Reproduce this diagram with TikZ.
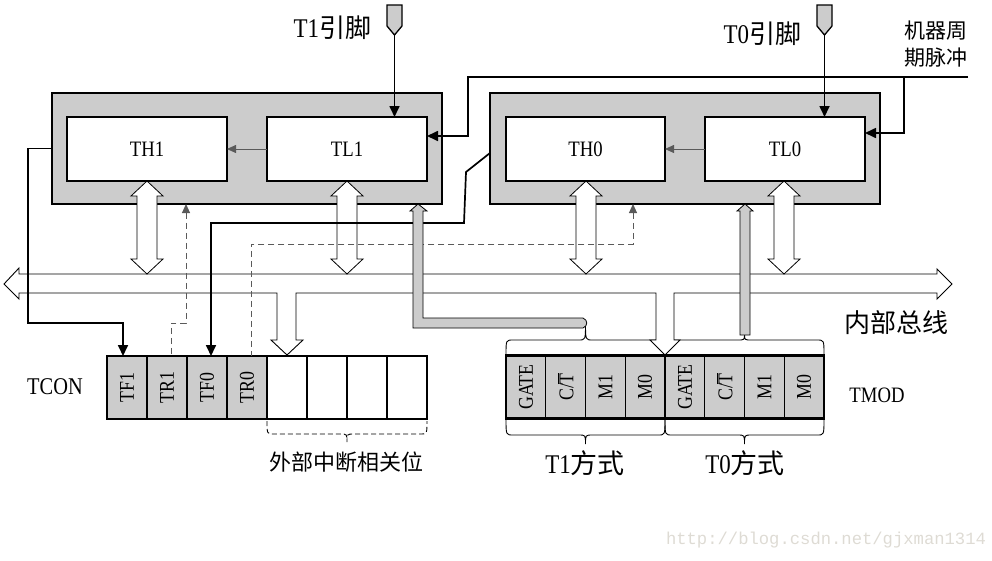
\documentclass[tikz,border=0pt]{standalone}
\usepackage{fontspec}
\usepackage{graphicx}
\setmainfont{Liberation Serif}[FakeStretch=0.85]
\newfontfamily\cjk{Noto Sans CJK SC}
\newfontfamily\wmfont{Liberation Mono}
\usetikzlibrary{arrows.meta}
\definecolor{rg}{RGB}{204,204,204}
\definecolor{wmc}{RGB}{222,219,212}
\definecolor{dg}{RGB}{90,90,90}

\newcommand\dblarr[1]{%
  \draw[warrow] (#1,181) -- ({#1+16},196) -- ({#1+10},196) -- ({#1+10},259) -- ({#1+16},259) -- (#1,274)
    -- ({#1-16},259) -- ({#1-10},259) -- ({#1-10},196) -- ({#1-16},196) -- cycle;}
% optional style, x1, x2, ybase, ystraight, ypeak
\newcommand\mybrace[6][]{%
  \draw[bracestyle,#1] (#2,#4) .. controls (#2,#5) .. ({#2+7},#5) -- ({(#2+#3)/2-7},#5)
    .. controls ({(#2+#3)/2},#5) .. ({(#2+#3)/2},#6)
    .. controls ({(#2+#3)/2},#5) .. ({(#2+#3)/2+7},#5) -- ({#3-7},#5)
    .. controls (#3,#5) .. (#3,#4);}

\begin{document}
\begin{tikzpicture}[x=1pt,y=-1pt,
  every node/.style={inner sep=0pt, outer sep=0pt},
  gbox/.style={draw, line width=1.6pt, fill=rg, minimum width=390pt, minimum height=111pt},
  reg/.style={draw, line width=1.6pt, fill=white, minimum width=160pt, minimum height=64pt,
    font=\fontsize{22}{24}\selectfont},
  cell/.style={draw, line width=1.2pt, fill=rg, minimum width=40pt, minimum height=63pt,
    font=\fontsize{21}{22}\selectfont},
  mcell/.style={cell, minimum width=39.75pt},
  ecell/.style={cell, fill=white},
  warrow/.style={draw, fill=white, line width=0.8pt},
  pipe/.style={draw, fill=rg, line width=0.8pt},
  thickln/.style={line width=1.7pt},
  tip/.style={-{Triangle[length=11pt,width=10pt]}},
  smalltip/.style={-{Triangle[length=9pt,width=8pt]}},
  dashln/.style={dashed, dash pattern=on 6pt off 4pt, line width=1pt, draw=dg},
  bracestyle/.style={line width=0.9pt},
  lbl/.style={font=\fontsize{24}{28}\selectfont},
  cjklbl/.style={font=\cjk\fontsize{26}{30}\selectfont},
]
\useasboundingbox (0,0) rectangle (992,560);

% gray boxes and registers
\node[gbox] (g1) at (247,148.5) {};
\node[gbox] (g0) at (685,148.5) {};
\node[reg] (TH1) at (147,149) {TH1};
\node[reg] (TL1) at (347,149) {TL1};
\node[reg, minimum width=159pt] (TH0) at (585.5,149) {TH0};
\node[reg] (TL0) at (785,149) {TL0};
\draw[line width=0.8pt, draw=dg, smalltip] (TL1.west) -- (TH1.east);
\draw[line width=0.8pt, draw=dg, smalltip] (TL0.west) -- (TH0.east);

% pins
\draw[fill=rg, line width=1.3pt] (387,5) -- (402,5) -- (402,26) -- (394.5,35) -- (387,26) -- cycle;
\draw[fill=rg, line width=1.3pt] (817,5) -- (832,5) -- (832,26) -- (824.5,35) -- (817,26) -- cycle;
\coordinate (p1) at (394.5,35);
\coordinate (p0) at (824.5,35);
\draw[thickln, tip] (p1) -- (p1 |- TL1.north);
\draw[thickln, tip] (p0) -- (p0 |- TL0.north);
\node[anchor=east] (t1pin) at (371,28) {\fontsize{27}{30}\selectfont T1{\cjk\fontsize{26}{30}\selectfont 引脚}};
\node[anchor=east] (t0pin) at (801,34) {\fontsize{27}{30}\selectfont T0{\cjk\fontsize{26}{30}\selectfont 引脚}};

% machine cycle pulse
\coordinate (mc) at (968,77);
\coordinate (k1) at (468,136);
\coordinate (k0) at (904,133);
\coordinate (br) at (904,77);
\draw[thickln, tip] (mc) -- (468,77) -- (k1) -- (k1 -| TL1.east);
\draw[thickln, tip] (br) -- (k0) -- (k0 -| TL0.east);
\node[font=\cjk\fontsize{21}{27}\selectfont, align=center] (mcp) at (936,44) {机器周\\期脉冲};

% TMOD top braces (under the bus arrow)
\mybrace{506}{665}{355}{340}{323}
\mybrace{665}{824}{355}{340}{334}

% internal bus
\draw[fill=white, line width=0.9pt] (4,284) -- (19,268) -- (19,274) -- (937,274) -- (937,269) -- (952,284)
  -- (937,299) -- (937,293) -- (674,293) -- (674,340) -- (680,340) -- (665,355) -- (650,340) -- (656,340)
  -- (656,293) -- (296,293) -- (296,340) -- (303,340) -- (287,355) -- (271,340) -- (277,340) -- (277,293)
  -- (19,293) -- (19,299) -- cycle;
\node[cjklbl] (bus) at (896,323) {内部总线};

% double arrows between registers and the bus
\dblarr{147}
\dblarr{347}
\dblarr{586}
\dblarr{784}

% TCON register
\node[cell] (c1) at (127,387.5) {\rotatebox{90}{TF1}};
\node[cell] (c2) at (167,387.5) {\rotatebox{90}{TR1}};
\node[cell] (c3) at (207,387.5) {\rotatebox{90}{TF0}};
\node[cell] (c4) at (247,387.5) {\rotatebox{90}{TR0}};
\node[ecell] (c5) at (287,387.5) {};
\node[ecell] (c6) at (327,387.5) {};
\node[ecell] (c7) at (367,387.5) {};
\node[ecell] (c8) at (407,387.5) {};
\draw[line width=2.4pt] (c1.north west) rectangle (c8.south east);
\node[lbl] (tcon) at (55,387) {TCON};

% TMOD register
\node[mcell] (m1) at (525.9,387) {\rotatebox{90}{GATE}};
\node[mcell] (m2) at (565.6,387) {\rotatebox{90}{C/$\overline{\hbox{T}}$}};
\node[mcell] (m3) at (605.4,387) {\rotatebox{90}{M1}};
\node[mcell] (m4) at (645.1,387) {\rotatebox{90}{M0}};
\node[mcell] (m5) at (684.9,387) {\rotatebox{90}{GATE}};
\node[mcell] (m6) at (724.6,387) {\rotatebox{90}{C/$\overline{\hbox{T}}$}};
\node[mcell] (m7) at (764.4,387) {\rotatebox{90}{M1}};
\node[mcell] (m8) at (804.1,387) {\rotatebox{90}{M0}};
\draw[line width=2.4pt] (m1.north west) rectangle (m8.south east);
\node[font=\fontsize{22}{26}\selectfont] (tmod) at (877,395) {TMOD};

% control lines to TCON
\draw[thickln, tip] (g1.west) -- (28,148.5) -- (28,323) -- (123,323) -- ([xshift=-4pt]c1.north);
\draw[thickln, tip] ([yshift=-4.5pt]g0.west) -- (466,172) -- (464,223) -- (211,223) -- ([xshift=4pt]c3.north);
\coordinate (a1) at (186,323);
\coordinate (a0) at (633,244);
\draw[dashln, {Triangle[length=9pt,width=8pt]}-] (a1 |- g1.south) -- (a1) -- (171,323) -- ([xshift=4pt]c2.north);
\draw[dashln, {Triangle[length=9pt,width=8pt]}-] (a0 |- g0.south) -- (a0) -- (251,244) -- ([xshift=4pt]c4.north);

% gray data pipes
\draw[pipe] (413,328) -- (413,211) -- (410,211) -- (418,204) -- (427,211) -- (423,211) -- (423,318)
  -- (583,318) .. controls (588,320) and (588,326) .. (583,328) -- cycle;
\draw[pipe] (740,335) -- (740,211) -- (737,211) -- (745,204) -- (753,211) -- (750,211) -- (750,335) -- cycle;

% lower braces
\mybrace[dashed, dash pattern=on 5pt off 3pt]{267}{427}{421}{434}{442}
\mybrace{506}{665}{419}{435}{444}
\mybrace{665}{824}{419}{435}{444}
\node[font=\cjk\fontsize{22}{26}\selectfont] (ext) at (346,462) {外部中断相关位};
\node (t1m) at (585,463) {\fontsize{27}{30}\selectfont T1{\cjk\fontsize{27}{30}\selectfont 方式}};
\node (t0m) at (745,463) {\fontsize{27}{30}\selectfont T0{\cjk\fontsize{27}{30}\selectfont 方式}};

% watermark
\node[font=\wmfont\fontsize{17.2}{20}\selectfont, text=wmc] (wm) at (826,540) {http://blog.csdn.net/gjxman1314};
\end{tikzpicture}
\end{document}
